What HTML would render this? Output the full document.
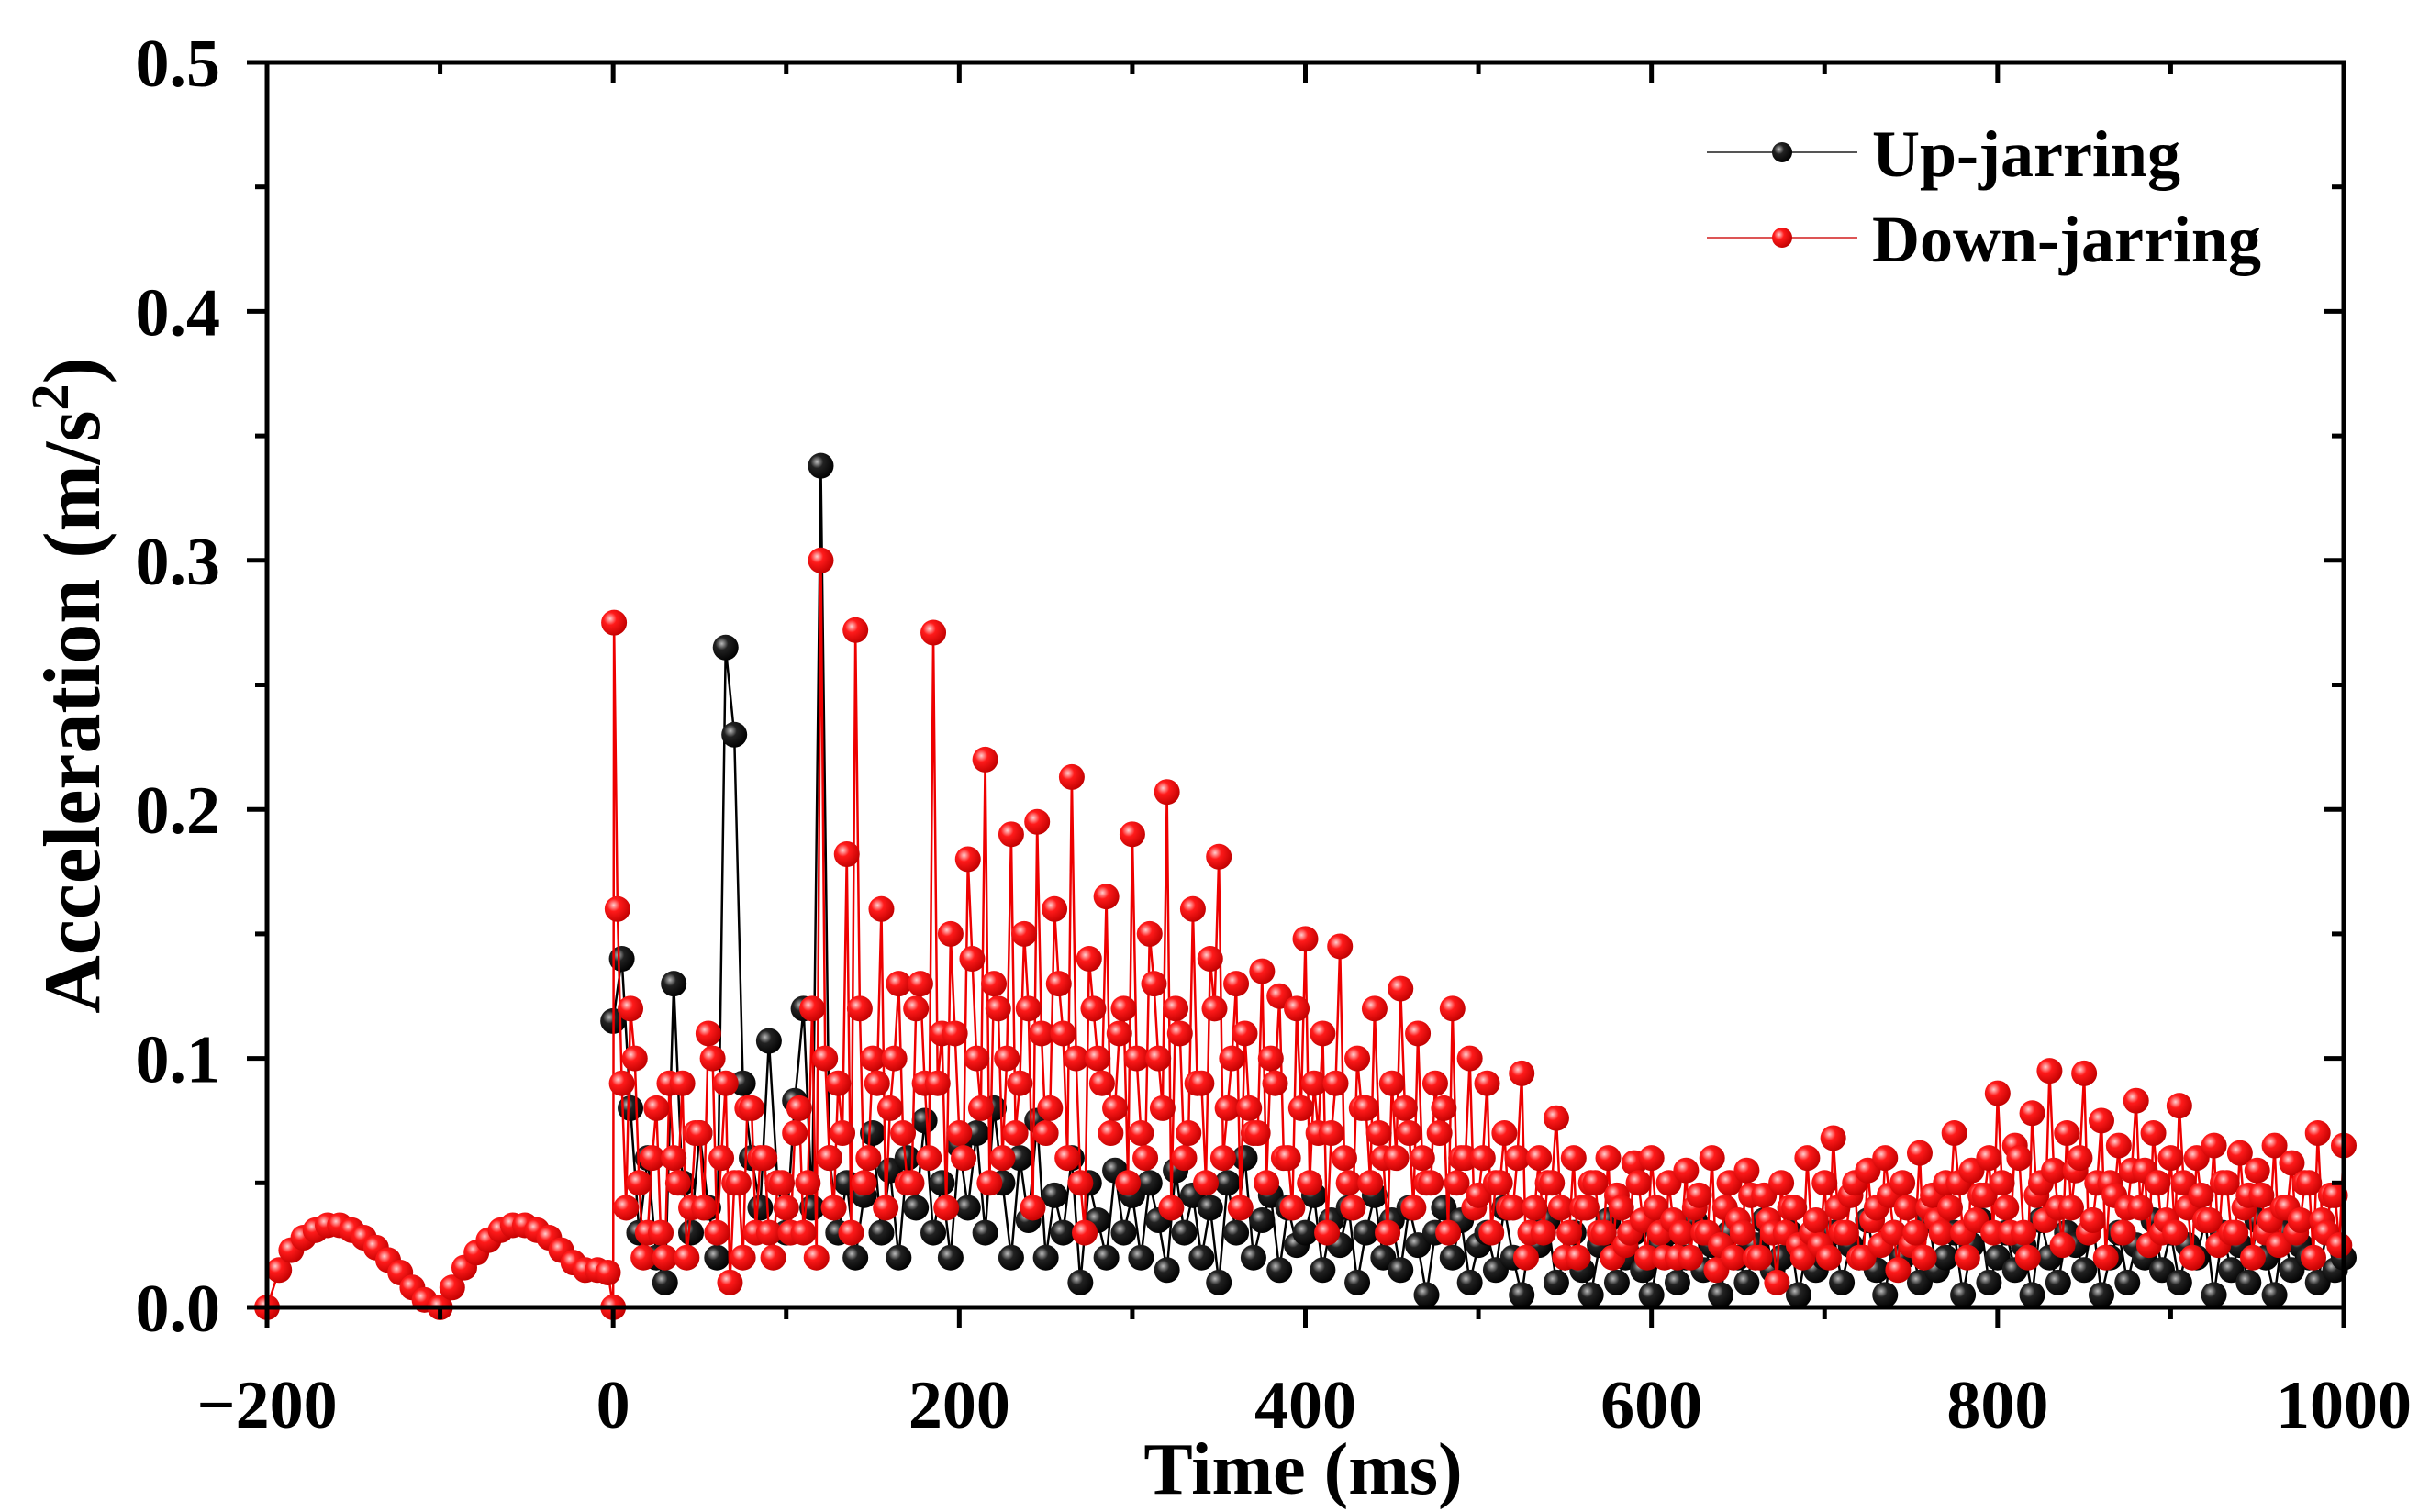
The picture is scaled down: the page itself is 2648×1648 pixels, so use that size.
<!DOCTYPE html>
<html><head><meta charset="utf-8"><style>
html,body{margin:0;padding:0;background:#fff;}
svg{display:block;font-family:"Liberation Serif",serif;font-weight:bold;}
</style></head><body>
<svg id="chart" width="2648" height="1648" viewBox="0 0 2648 1648" xmlns="http://www.w3.org/2000/svg">
<defs>
<radialGradient id="gRed" cx="0.35" cy="0.35" r="0.7"><stop offset="0" stop-color="#ffd0d0"/><stop offset="0.35" stop-color="#ff1a1a"/><stop offset="1" stop-color="#c00000"/></radialGradient>
<radialGradient id="gBlk" cx="0.35" cy="0.35" r="0.7"><stop offset="0" stop-color="#bbbbbb"/><stop offset="0.35" stop-color="#222"/><stop offset="1" stop-color="#000"/></radialGradient>
</defs>
<g id="plot"></g>
<g id="axes"></g>
</svg>
<script>
const xTicks=[-200,0,200,400,600,800,1000];
const xTickLabels=["\u2212200","0","200","400","600","800","1000"];
const yTicks=[0,0.1,0.2,0.3,0.4,0.5];
const yTickLabels=["0.0","0.1","0.2","0.3","0.4","0.5"];
const preTimes=[-200,-193,-186,-179,-172,-165,-158,-151,-144,-137,-130,-123,-116,-109,-100,-93,-86,-79,-72,-65,-58,-51,-44,-37,-30,-23,-16,-9,-3,0];
const preDown=[0,0.015,0.023,0.028,0.031,0.033,0.033,0.031,0.028,0.024,0.019,0.014,0.008,0.003,0,0.008,0.016,0.022,0.027,0.031,0.033,0.033,0.031,0.028,0.023,0.018,0.015,0.015,0.014,0];
const downA=[0.275,0.09,0.12,0.05,0.03,0.08,0.02,0.06,0.09,0.04,0.07,0.11,0.03,0.09,0.05,0.02,0.08,0.06,0.03,0.05,0.04,
0.07,0.03,0.12,0.30,0.06,0.09,0.182,0.272,0.05,0.1,0.16,0.08,0.13,0.05,0.12,0.09,0.271,0.11,0.15,0.07,
0.18,0.1,0.22,0.13,0.06,0.19,0.09,0.12,0.195,0.07,0.16,0.11,0.213,0.05,0.14,0.1,0.165,0.08,0.12,0.19,
0.07,0.15,0.1,0.207,0.12,0.06,0.16,0.09,0.14,0.181,0.08,0.13,0.11,0.07,0.135,0.1,0.125,0.06,0.12,0.148,
0.09,0.11,0.07,0.145,0.05,0.1,0.08,0.12,0.06,0.09,0.128,0.07,0.11,0.05,0.09,0.08,0.12,0.06,0.1,0.045,
0.09,0.05,0.07,0.04,0.094,0.03,0.06,0.05,0.076,0.02,0.06,0.04,0.05,0.03,0.06,0.045,0.025,0.058,0.035,0.06,
0.03,0.05,0.02,0.055,0.04,0.03,0.06,0.025,0.05,0.035,0.055,0.02,0.045,0.03,0.05,0.04,0.025,0.06,0.035,0.05,
0.068,0.03,0.045,0.02,0.055,0.04,0.06,0.03,0.05,0.025,0.062,0.04,0.035,0.05,0.07,0.03,0.055,0.045,0.06,0.086,
0.04,0.065,0.03,0.078,0.05,0.095,0.04,0.07,0.055,0.094,0.035,0.075,0.05,0.065,0.04,0.083,0.055,0.07,0.03,0.06,
0.081,0.04,0.06,0.035,0.065,0.05,0.03,0.062,0.045,0.055,0.03,0.065,0.04,0.058,0.035,0.05,0.07,0.03,0.045,0.065];
const downB=[0.16,0.04,0.1,0.02,0.06,0.03,0.09,0.05,0.02,0.07,0.04,0.1,0.06,0.01,0.05,0.08,0.03,0.06,0.02,0.05,
0.03,0.08,0.05,0.02,0.1,0.04,0.07,0.03,0.12,0.06,0.09,0.04,0.1,0.07,0.05,0.13,0.06,0.09,0.04,0.11,
0.06,0.14,0.08,0.05,0.12,0.1,0.07,0.15,0.04,0.11,0.08,0.13,0.06,0.1,0.03,0.12,0.09,0.07,0.11,0.05,
0.1,0.06,0.13,0.08,0.04,0.11,0.07,0.09,0.05,0.12,0.06,0.1,0.04,0.08,0.07,0.05,0.09,0.06,0.04,0.08,
0.05,0.07,0.03,0.09,0.06,0.04,0.08,0.05,0.07,0.03,0.06,0.08,0.04,0.06,0.05,0.07,0.03,0.05,0.06,0.04,
0.06,0.03,0.05,0.04,0.06,0.02,0.04,0.03,0.05,0.04,0.03,0.02,0.04,0.05,0.03,0.02,0.04,0.03,0.05,0.02,
0.04,0.02,0.035,0.03,0.02,0.045,0.03,0.015,0.04,0.02,0.03,0.045,0.02,0.035,0.01,0.03,0.04,0.02,0.03,0.025,
0.02,0.04,0.03,0.05,0.02,0.035,0.025,0.045,0.015,0.04,0.03,0.02,0.045,0.03,0.04,0.05,0.02,0.035,0.045,0.03,
0.05,0.03,0.06,0.02,0.045,0.035,0.055,0.025,0.04,0.06,0.03,0.05,0.02,0.045,0.03,0.055,0.04,0.025,0.05,0.035,
0.03,0.05,0.02,0.045,0.035,0.025,0.05,0.03,0.04,0.02,0.045,0.035,0.025,0.04,0.03,0.05,0.02,0.035,0.045,0.025];
const upA=[0.115,0.14,0.08,0.03,0.06,0.02,0.01,0.13,0.05,0.03,0.07,0.04,0.02,0.265,0.23,0.09,0.06,0.04,0.107,0.05,0.03,
0.083,0.12,0.04,0.338,0.06,0.03,0.05,0.02,0.045,0.07,0.03,0.055,0.02,0.06,0.04,0.075,0.03,0.05,0.02,0.065,
0.04,0.07,0.03,0.08,0.05,0.02,0.06,0.035,0.075,0.02,0.045,0.03,0.06,0.01,0.05,0.035,0.02,0.055,0.03,0.045,
0.02,0.05,0.035,0.015,0.055,0.03,0.045,0.02,0.04,0.01,0.05,0.03,0.06,0.02,0.035,0.045,0.015,0.04,0.025,0.03,
0.045,0.015,0.035,0.025,0.04,0.01,0.03,0.045,0.02,0.035,0.015,0.04,0.025,0.005,0.03,0.04,0.02,0.035,0.01,0.025,
0.03,0.015,0.04,0.02,0.005,0.03,0.025,0.035,0.01,0.02,0.03,0.015,0.005,0.025,0.035,0.01,0.02,0.03,0.015,0.005,
0.025,0.03,0.01,0.02,0.035,0.015,0.025,0.005,0.03,0.02,0.01,0.025,0.035,0.015,0.02,0.03,0.005,0.025,0.015,0.02,
0.03,0.01,0.025,0.02,0.035,0.015,0.005,0.03,0.02,0.025,0.01,0.035,0.015,0.02,0.03,0.005,0.025,0.035,0.01,0.02,
0.03,0.015,0.025,0.005,0.035,0.02,0.01,0.03,0.025,0.015,0.035,0.005,0.02,0.03,0.01,0.025,0.02,0.035,0.015,0.03,
0.01,0.025,0.02,0.035,0.005,0.03,0.015,0.025,0.01,0.035,0.02,0.005,0.03,0.015,0.025,0.02,0.01,0.03,0.015,0.02];

const L=291,R=2554,T=68,B=1425,X0=-200,X1=1000,Y0=0,Y1=0.5;
function sx(v){return L+(v-X0)/(X1-X0)*(R-L);}
function sy(v){return B-(v-Y0)/(Y1-Y0)*(B-T);}
const NS="http://www.w3.org/2000/svg";
function mk(tag,attrs,parent){const e=document.createElementNS(NS,tag);for(const k in attrs)e.setAttribute(k,attrs[k]);parent.appendChild(e);return e;}
const plot=document.getElementById('plot'),axes=document.getElementById('axes');

const upPts=upA.map((v,i)=>[i*5,v]);
const downPts=preTimes.map((t,i)=>[t,preDown[i]]);
for(let i=0;i<downA.length;i++){if(i>0)downPts.push([i*5,downA[i]]);else downPts.push([0.5,downA[0]]);if(i<downB.length)downPts.push([i*5+2.5,downB[i]]);}

function drawSeries(pts,color,grad,name){
  const g=mk('g',{},plot);
  
  
  const pl=mk('polyline',{points:pts.map(p=>sx(p[0])+','+sy(p[1])).join(' '),fill:'none',stroke:color,'stroke-width':2.5},g);
  
  
  pts.forEach(p=>{const c=mk('circle',{cx:sx(p[0]),cy:sy(p[1]),r:14,fill:'url(#'+grad+')'},g);
    
    });
}
drawSeries(upPts,'#000','gBlk','up-jarring');
drawSeries(downPts,'#e00','gRed','down-jarring');

const fr=mk('rect',{x:L,y:T,width:R-L,height:B-T,fill:'none',stroke:'#000','stroke-width':5},axes);


for(let v=-200;v<=1000;v+=100){const major=v%200===0;const len=major?22:13;
  mk('line',{x1:sx(v),x2:sx(v),y1:B,y2:B+len,stroke:'#000','stroke-width':5},axes);
  mk('line',{x1:sx(v),x2:sx(v),y1:T,y2:T+len,stroke:'#000','stroke-width':5},axes);}
xTicks.forEach((v,i)=>{const t=mk('text',{x:sx(v),y:1556,'font-size':74,'text-anchor':'middle'},axes);t.textContent=xTickLabels[i];
  
  });
for(let k=0;k<=10;k++){const v=k*0.05;const major=k%2===0;const len=major?22:13;
  mk('line',{x1:L-len,x2:L,y1:sy(v),y2:sy(v),stroke:'#000','stroke-width':5},axes);
  mk('line',{x1:R-len,x2:R,y1:sy(v),y2:sy(v),stroke:'#000','stroke-width':5},axes);}
yTicks.forEach((v,i)=>{const t=mk('text',{x:240,y:sy(v)+26,'font-size':74,'text-anchor':'end'},axes);t.textContent=yTickLabels[i];
  
  });
</script>
<svg style="position:absolute;left:0;top:0" width="2648" height="1648" xmlns="http://www.w3.org/2000/svg" font-family="Liberation Serif, serif" font-weight="bold">
<text x="1420" y="1628" font-size="80" text-anchor="middle">Time (ms)</text>
<text transform="translate(108,747) rotate(-90)" font-size="88" text-anchor="middle">Acceleration (m/s<tspan font-size="58" dy="-34">2</tspan><tspan dy="34">)</tspan></text>
<g>
<g>
<line x1="1860" y1="166" x2="2024" y2="166" stroke="#555" stroke-width="2"/>
<circle cx="1942" cy="166" r="11" fill="url(#gBlk)"/>
<text x="2040" y="192" font-size="72">Up-jarring</text>
</g>
<g>
<line x1="1860" y1="259" x2="2024" y2="259" stroke="#d55" stroke-width="2"/>
<circle cx="1942" cy="259" r="11" fill="url(#gRed)"/>
<text x="2040" y="285" font-size="72">Down-jarring</text>
</g>
</g>
</svg>
</body></html>
